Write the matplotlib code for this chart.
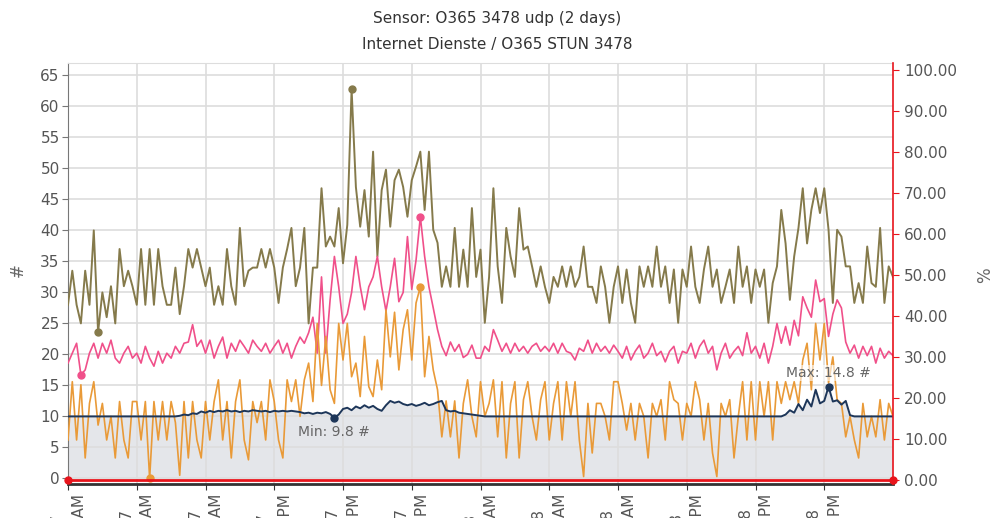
import numpy as np
import matplotlib.pyplot as plt

# 15 minute samples over the 2 day window (hours since start)
hours = np.arange(193) * 0.25

olive = [28, 33.5, 28, 25, 33.5, 28, 40, 23.6, 30, 26, 31, 25, 37, 31, 33.5, 31,
         28, 37, 28, 37, 28, 37, 31, 28, 28, 34, 26.5, 31, 37, 34, 37, 34,
         31, 34, 28, 31, 28, 37, 31, 28, 40.4, 31, 33.5, 34, 34, 37, 34, 37,
         34, 28.3, 34, 37, 40.4, 31, 34, 40.4, 25, 34, 34, 46.8, 37.4, 39, 37.4, 43.6,
         34.7, 40.9, 62.8, 47, 40.6, 46.5, 39, 52.7, 35.8, 46.5, 49.8, 40.6, 48.1, 49.8, 47, 42.2,
         48.1, 50.3, 52.7, 43.3, 52.7, 40.1, 38, 30.9, 34.2, 30.9, 40.4, 30.9, 36.9, 30.9, 43.6, 32.5,
         36.9, 25.1, 32.5, 46.8, 34.2, 28.3, 40.4, 35.8, 32.5, 43.6, 36.9, 37.4, 34.2, 30.9, 34.2, 30.9,
         28.3, 32.5, 30.9, 34.2, 30.9, 34.2, 30.9, 32.5, 37.4, 30.9, 30.9, 28.3, 34.2, 30.9, 25.1, 30.9,
         34.2, 28.3, 33.7, 28.3, 25.1, 34.2, 30.9, 34.2, 30.9, 37.4, 30.9, 34.2, 28.3, 33.7, 25.1, 33.7,
         30.9, 37.4, 30.9, 28.3, 33.7, 37.4, 30.9, 33.7, 28.3, 30.9, 33.7, 28.3, 37.4, 30.9, 34.2, 28.3,
         33.7, 30.9, 33.7, 25.1, 31.5, 34.2, 43.3, 37.9, 28.8, 35.8, 40.4, 46.8, 37.9, 43.3, 46.8, 42.8,
         46.8, 40.1, 28.3, 40.1, 39, 34.2, 34.2, 28.3, 31.5, 28.3, 37.4, 31.5, 30.9, 40.4, 28.3, 34.2, 32.5]

pink = [18.6, 20.2, 21.8, 16.7, 17.5, 20.2, 21.8, 19.4, 21.8, 20.2, 22.3, 19.4, 18.6, 20.2, 21.3, 19.4,
        20.2, 18.6, 21.3, 19.4, 18.1, 20.5, 18.6, 20.2, 19.4, 21.3, 20.2, 21.8, 22, 24.8, 21.3, 22.3,
        20.2, 22.3, 19.4, 21.3, 22.8, 19.4, 21.8, 20.5, 22.3, 21.3, 20.2, 22.3, 21.3, 20.5, 21.8, 20.2,
        21.3, 22.3, 20.2, 21.8, 19.4, 21.3, 22.8, 21.8, 23.5, 26, 20.2, 32.5, 20.2, 28.8, 35.8, 30.9,
        25, 26.5, 30, 35.8, 31, 27.2, 30.9, 32.5, 35.8, 30.9, 27, 30.9, 35.5, 28.5, 30, 39,
        30.5, 35.2, 42.2, 35.8, 30.9, 27.5, 24, 21.3, 19.8, 22, 20.5, 21.6, 19.5, 20, 21.5, 19.4,
        19.4, 21.3, 20.5, 24, 22.3, 20.5, 21.8, 20.2, 21.8, 20.5, 21.3, 20.2, 21.3, 21.8, 20.5, 21.3,
        20.5, 21.8, 20.2, 21.8, 20.5, 20.2, 19.1, 21, 20.5, 22.3, 20.2, 21.8, 20.5, 21.3, 20.2, 21.5,
        20.5, 19.4, 21.3, 19.1, 20.5, 21.5, 19.4, 20.2, 21.8, 19.8, 20.5, 18.8, 20.5, 21.3, 18.6, 20.5,
        20.2, 21.8, 19.4, 21.3, 22.3, 20.2, 21.3, 17.5, 20.2, 21.8, 19.4, 20.5, 21.3, 19.8, 23.5, 20.2,
        21.3, 19.4, 21.8, 18.6, 21.3, 25, 21.8, 24.5, 21.5, 25.5, 23, 29.3, 27.5, 26, 32, 28.5,
        29, 22.9, 26.5, 28.8, 27.5, 22, 20.2, 21.5, 19.4, 21.3, 19.8, 21.3, 18.6, 21, 19.4, 20.5, 19.8]

orange = [6.2, 15.6, 6.2, 15.1, 3.3, 12.1, 15.6, 8.6, 12.1, 6.2, 10, 3.3, 12.4, 6.2, 3.3, 12.4,
          12.4, 6.2, 12.4, 0, 12.4, 6.2, 12.4, 6.2, 12.4, 9, 0.5, 12.4, 3.3, 12.4, 6.2, 3.3,
          12.4, 6.2, 12.4, 15.9, 6.2, 12.4, 3.3, 12.4, 15.9, 6.2, 3, 12.4, 9, 12.4, 6.2, 15.9,
          12.4, 6.2, 3.3, 15.9, 12.4, 15.9, 10, 15.9, 18.6, 12.4, 25, 15, 22.9, 14.3, 12.1, 25,
          19.1, 25, 16.4, 18.6, 13.2, 22.9, 14.8, 13.2, 19.1, 14.3, 27.2, 19.6, 26.8, 17.5, 24, 27.2,
          19.1, 28.3, 30.9, 16.4, 22.9, 17.5, 14.3, 6.7, 12.5, 6.7, 12.5, 3.3, 12.1, 15.9, 10, 6.7,
          15.6, 10, 12.1, 15.9, 6.7, 15.6, 3.3, 12.1, 15.6, 3.3, 12.7, 15.6, 10, 6.2, 12.7, 15.6,
          6.2, 12.1, 15.6, 6.2, 15.6, 10, 15.6, 6.2, 0.3, 12.1, 4.1, 12.1, 12.1, 10, 6.2, 15.6,
          15.6, 12.1, 7.8, 12.1, 6.2, 12.1, 10, 3.3, 12.1, 10, 12.7, 6.2, 15.6, 12.7, 12.1, 6.2,
          12.1, 10, 15.6, 12.7, 6.2, 12.1, 4.1, 0.3, 12.1, 10, 12.7, 3.3, 10, 15.6, 6.2, 15.6,
          6.2, 15.6, 10, 15.6, 6.2, 15.6, 12.1, 15.6, 12.7, 15.6, 12.1, 19.1, 21.8, 14.3, 25, 19.1,
          25, 15.4, 19.6, 12.7, 12.1, 6.7, 10, 6.2, 3.3, 12.1, 6.7, 10, 6.7, 12.7, 6.2, 12.1, 10]

navy = ([10.0] * 26 +
        [10.1, 10.3, 10.2, 10.5, 10.4, 10.8, 10.6, 10.9, 10.7, 10.9, 10.8, 11, 10.8, 10.9, 10.7, 10.9,
         10.8, 11, 10.9, 10.8, 10.9, 10.7, 10.9, 10.8, 10.9, 10.8, 10.9, 10.8, 10.7, 10.5, 10.6, 10.4,
         10.6, 10.5, 10.7, 10.4, 9.8, 10.3, 11.2, 11.4, 11, 11.6, 11.3, 11.8, 11.4, 11.7, 11.2, 10.9,
         11.8, 12.5, 12.2, 12.4, 12, 11.8, 12, 11.7, 11.9, 12.2, 11.8, 12, 12.3, 12.5, 11, 10.8,
         10.9, 10.6, 10.5, 10.4, 10.3, 10.2, 10.1] +
        [10.0] * 70 +
        [10.3, 11, 10.6, 12, 11, 12.7, 11.6, 14.3, 12.1, 12.5, 14.8, 12.4, 12.6, 11.9, 12.5, 10.2] +
        [10.0] * 10)

loss_pct = [0.0] * 193

tick_hours = [0, 4, 8, 12, 16, 20, 24, 28, 32, 36, 40, 44]
tick_labels = ["11/7\n12:00 AM", "11/7\n4:00 AM", "11/7\n8:00 AM", "11/7\n12:00 PM",
               "11/7\n4:00 PM", "11/7\n8:00 PM", "11/8\n12:00 AM", "11/8\n4:00 AM",
               "11/8\n8:00 AM", "11/8\n12:00 PM", "11/8\n4:00 PM", "11/8\n8:00 PM"]

c_olive = '#857a4b'
c_pink = '#f0508a'
c_orange = '#e99a38'
c_navy = '#1d3659'
c_red = '#e8141c'
txt = '#555555'

fig = plt.figure(figsize=(9.9, 5.18), dpi=100)
ax = fig.add_axes([68 / 990, 34 / 518, 825 / 990, 421 / 518])
ax2 = ax.twinx()

ax.fill_between(hours, 0, navy, color='#e4e6ea', lw=0, zorder=0.4)
ax.plot(hours, olive, color=c_olive, lw=1.4, zorder=3)
ax.plot(hours, pink, color=c_pink, lw=1.2, zorder=3)
ax.plot(hours, orange, color=c_orange, lw=1.2, zorder=4)
ax.plot(hours, navy, color=c_navy, lw=1.4, zorder=5)

# min / max dots for each channel
for vals, col in [(olive, c_olive), (pink, c_pink), (orange, c_orange), (navy, c_navy)]:
    v = np.array(vals)
    for i in (int(v.argmin()), int(v.argmax())):
        ax.plot(hours[i], v[i], 'o', ms=5, color=col, zorder=6, clip_on=False)

nv = np.array(navy)
imin, imax = int(nv.argmin()), int(nv.argmax())
ax.text(hours[imin] - 2.1, nv[imin] - 2.3, 'Min: %.1f #' % nv[imin], color='#666666',
        fontsize=10, va='center', zorder=7)
ax.text(hours[imax] - 2.5, nv[imax] + 2.2, 'Max: %.1f #' % nv[imax], color='#666666',
        fontsize=10, va='center', zorder=7,
        bbox=dict(facecolor='white', alpha=0.6, edgecolor='none', pad=1))

ax2.plot(hours, loss_pct, color=c_red, lw=2, zorder=3)
ax2.plot([hours[0], hours[-1]], [loss_pct[0], loss_pct[-1]], 'o', ms=5, color=c_red,
         clip_on=False, zorder=4)

ax.set_xlim(0, 48)
ax.set_ylim(-0.9, 67.0)
ax2.set_ylim(-1.0, 101.7)

ax.set_yticks(range(0, 66, 5))
ax2.set_yticks(range(0, 101, 10))
ax2.set_yticklabels(['%.2f' % t for t in range(0, 101, 10)])
ax.set_xticks(tick_hours)
ax.set_xticklabels(tick_labels, rotation=90, linespacing=1.6)

ax.set_axisbelow(True)
ax.grid(color='#dddddd', lw=1.2)

ax.spines['right'].set_visible(False)
ax.spines['top'].set_color('#dddddd')
ax.spines['left'].set_color('#777777')
ax.spines['bottom'].set_color('#333333')
ax.spines['bottom'].set_linewidth(2)
for s in ['left', 'top', 'bottom']:
    ax2.spines[s].set_visible(False)
ax2.spines['right'].set_color(c_red)
ax2.spines['right'].set_linewidth(1.2)

ax.tick_params(axis='y', length=4, color='#777777', labelcolor=txt, labelsize=11, pad=2)
ax.tick_params(axis='x', length=4, color='#333333', labelcolor=txt, labelsize=11, pad=3)
ax2.tick_params(axis='y', length=4, color=c_red, labelcolor=txt, labelsize=11, pad=4)

fig.text(18 / 990, 1 - 270 / 518, '#', rotation=90, ha='center', va='center',
         color='#666666', fontsize=12)
fig.text(985 / 990, 1 - 275 / 518, '%', rotation=90, ha='center', va='center',
         color='#666666', fontsize=12)
fig.text(0.502, 1 - 18 / 518, 'Sensor: O365 3478 udp (2 days)', ha='center', va='center',
         color='#333333', fontsize=11)
fig.text(0.502, 1 - 45 / 518, 'Internet Dienste / O365 STUN 3478', ha='center', va='center',
         color='#333333', fontsize=11)

fig.savefig('out.png', dpi=100)
